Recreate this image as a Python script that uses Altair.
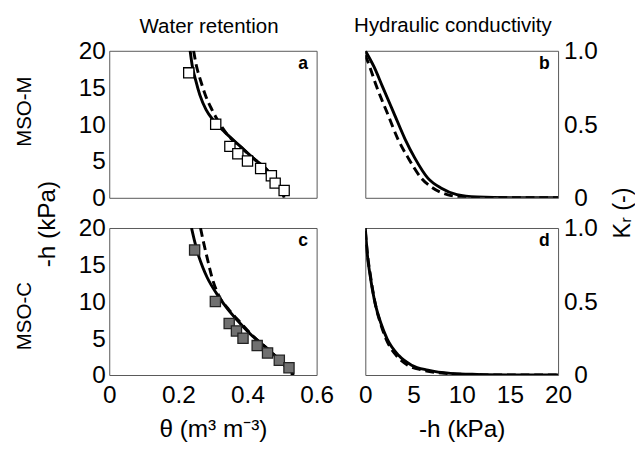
import altair as alt
import pandas as pd

FONT = "Liberation Sans"

# ---------------- observed data (squares) ----------------
h_obs = [17, 10, 7, 6, 5, 4, 3, 2, 1]
theta_obs_m = [0.230, 0.308, 0.349, 0.372, 0.400, 0.438, 0.469, 0.480, 0.506]
theta_obs_c = [0.247, 0.307, 0.347, 0.368, 0.387, 0.428, 0.458, 0.492, 0.520]

# ---------------- retention curves (theta, -h) ----------------
ret_m_solid_theta = [0.234, 0.240, 0.250, 0.262, 0.280, 0.302, 0.335, 0.377, 0.419, 0.461, 0.489, 0.500, 0.506]
ret_m_solid_h     = [20, 18, 16, 14, 12, 10.5, 8.9, 7.1, 5.3, 3.6, 1.8, 0.8, 0]
ret_m_dash_theta  = [0.244, 0.252, 0.264, 0.278, 0.297, 0.318, 0.340, 0.378, 0.419, 0.460, 0.489, 0.500, 0.506]
ret_m_dash_h      = [20, 18, 16, 14, 12, 10.2, 8.7, 7.0, 5.3, 3.6, 1.8, 0.8, 0]

ret_c_solid_theta = [0.238, 0.248, 0.260, 0.271, 0.283, 0.316, 0.344, 0.377, 0.414, 0.457, 0.499, 0.534]
ret_c_solid_h     = [20, 18, 16, 14.6, 13.3, 10.7, 8.9, 7.1, 5.3, 3.6, 1.8, 0]
ret_c_dash_theta  = [0.264, 0.274, 0.283, 0.297, 0.318, 0.346, 0.380, 0.416, 0.457, 0.497, 0.530]
ret_c_dash_h      = [20, 17.8, 16, 13.3, 10.7, 8.9, 7.1, 5.3, 3.6, 1.8, 0]

# ---------------- conductivity curves (-h, Kr) ----------------
k_m_solid_h  = [0, 0.91, 1.76, 2.94, 4.12, 5.14, 6.49, 7.84, 9.5, 11.6, 15, 20]
k_m_solid_kr = [1.0, 0.89, 0.76, 0.58, 0.40, 0.27, 0.134, 0.067, 0.022, 0.005, 0.0, 0.0]
k_m_dash_h   = [0, 0.47, 1.15, 2.26, 3.38, 4.46, 5.81, 7.0, 8.5, 10.5, 14, 20]
k_m_dash_kr  = [0.97, 0.89, 0.76, 0.58, 0.40, 0.27, 0.134, 0.067, 0.022, 0.004, 0.0, 0.0]

k_c_solid_h  = [0, 0.24, 0.47, 0.74, 1.08, 1.59, 2.26, 3.45, 4.8, 6.5, 8.85, 11.6, 15, 20]
k_c_solid_kr = [1.0, 0.80, 0.69, 0.58, 0.47, 0.357, 0.246, 0.134, 0.067, 0.033, 0.011, 0.004, 0.001, 0.0]
k_c_dash_h   = [0, 0.26, 0.50, 0.76, 1.08, 1.55, 2.15, 3.2, 4.4, 6.0, 8.3, 11.0, 15, 20]
k_c_dash_kr  = [0.98, 0.80, 0.69, 0.58, 0.47, 0.357, 0.246, 0.134, 0.067, 0.033, 0.011, 0.003, 0.0, 0.0]

col_titles = ["Water retention", "Hydraulic conductivity"]
row_titles = ["MSO-M", "MSO-C"]
panel_letters = ["a", "b", "c", "d"]

W_L, W_R, H = 213, 198, 151
TICK_FS = 25
TITLE_FS = 25


def lines(xs, ys, dashed, xenc, yenc):
    df = pd.DataFrame({"x": xs, "y": ys})
    kw = dict(color="black", strokeWidth=3, interpolate="monotone", clip=True)
    if dashed:
        kw["strokeDash"] = [9, 5]
    return alt.Chart(df).mark_line(**kw).encode(x=xenc, y=yenc)


def text_at(txt, x, y, size, weight="normal", angle=0):
    df = pd.DataFrame({"t": [txt]})
    kw = dict(fontSize=size, fontWeight=weight, font=FONT, align="center",
              baseline="middle", color="black")
    if angle:
        kw["angle"] = angle
    return alt.Chart(df).mark_text(**kw).encode(text="t:N", x=alt.value(x), y=alt.value(y))


num_label = "datum.value == 0 ? '0' : format(datum.value, '.1f')"


def retention_panel(idx, obs, s_t, s_h, d_t, d_h, filled, show_x):
    if show_x:
        xaxis = alt.Axis(values=[0, 0.2, 0.4, 0.6], labelExpr=num_label, labelFontSize=TICK_FS,
                         labelFont=FONT, labelPadding=8, labelFlush=False, ticks=False, domain=False,
                         grid=False, title="θ (m³ m⁻³)", titleFontSize=TITLE_FS, titleFont=FONT,
                         titleFontWeight="normal", titlePadding=10)
    else:
        xaxis = None
    yaxis = alt.Axis(values=[0, 5, 10, 15, 20], labelFontSize=TICK_FS, labelFont=FONT,
                     labelPadding=4, ticks=False, domain=False, grid=False,
                     title=row_titles[idx // 2], titleFontSize=21, titleFont=FONT,
                     titleFontWeight="normal", titleAngle=270, titleX=-87,
                     titleY=62 if idx == 0 else 90, titleBaseline="middle", titleAlign="center")
    xenc = alt.X("x:Q", scale=alt.Scale(domain=[0, 0.6], nice=False, zero=False), axis=xaxis)
    yenc = alt.Y("y:Q", scale=alt.Scale(domain=[0, 20], nice=False), axis=yaxis)
    obs_df = pd.DataFrame({"x": obs, "y": h_obs})
    pts = alt.Chart(obs_df).mark_point(
        shape="square", size=110, filled=True, opacity=1,
        fill="#707070" if filled else "white", stroke="#222" if filled else "black",
        strokeWidth=1.3).encode(x=xenc, y=yenc)
    layers = [lines(s_t, s_h, False, xenc, yenc), lines(d_t, d_h, True, xenc, yenc), pts,
              text_at(panel_letters[idx], W_L - 14, 14, 18, "bold")]
    if idx == 0:
        layers.append(text_at("-h (kPa)", -64, 178, TITLE_FS, angle=270))
        layers.append(text_at(col_titles[0], W_L / 2 - 4, -24, 21))
    return alt.layer(*layers).properties(width=W_L, height=H)


def conductivity_panel(idx, s_h, s_k, d_h, d_k, show_x):
    if show_x:
        xaxis = alt.Axis(values=[0, 5, 10, 15, 20], labelFontSize=TICK_FS, labelFont=FONT,
                         labelPadding=8, labelFlush=False, ticks=False, domain=False, grid=False,
                         title="-h (kPa)", titleFontSize=TITLE_FS, titleFont=FONT,
                         titleFontWeight="normal", titlePadding=10)
    else:
        xaxis = None
    yargs = dict(orient="right", values=[0, 0.5, 1.0], labelExpr=num_label,
                 labelFontSize=TICK_FS, labelFont=FONT, labelAlign="center", labelPadding=23,
                 ticks=False, domain=False, grid=False)
    if idx == 1:
        yargs.update(title="Kᵣ (-)", titleFontSize=24, titleFont=FONT, titleFontWeight="normal",
                     titleAngle=270, titleX=66, titleY=166, titleBaseline="middle",
                     titleAlign="center")
    else:
        yargs.update(title=None)
    yaxis = alt.Axis(**yargs)
    xenc = alt.X("x:Q", scale=alt.Scale(domain=[0, 20], nice=False), axis=xaxis)
    yenc = alt.Y("y:Q", scale=alt.Scale(domain=[0, 1], nice=False), axis=yaxis)
    layers = [lines(s_h, s_k, False, xenc, yenc), lines(d_h, d_k, True, xenc, yenc),
              text_at(panel_letters[idx], W_R - 14, 14, 18, "bold")]
    if idx == 1:
        layers.append(text_at(col_titles[1], W_R / 2 - 9, -25, 21))
    return alt.layer(*layers).properties(width=W_R, height=H)


pa = retention_panel(0, theta_obs_m, ret_m_solid_theta, ret_m_solid_h, ret_m_dash_theta, ret_m_dash_h, False, False)
pb = conductivity_panel(1, k_m_solid_h, k_m_solid_kr, k_m_dash_h, k_m_dash_kr, False)
pc = retention_panel(2, theta_obs_c, ret_c_solid_theta, ret_c_solid_h, ret_c_dash_theta, ret_c_dash_h, True, True)
pd_ = conductivity_panel(3, k_c_solid_h, k_c_solid_kr, k_c_dash_h, k_c_dash_kr, True)

chart = alt.ConcatChart(concat=[pa, pb, pc, pd_], columns=2,
                        spacing={"row": 31, "column": 50}, bounds="flush").properties(
    padding={"left": 5, "top": 1, "right": 0, "bottom": 0}
).configure(font=FONT).configure_view(stroke="#555", strokeWidth=1).configure_axis(
    labelColor="black", titleColor="black")

chart.save("out.html", embed_options={"renderer": "svg", "actions": False})
